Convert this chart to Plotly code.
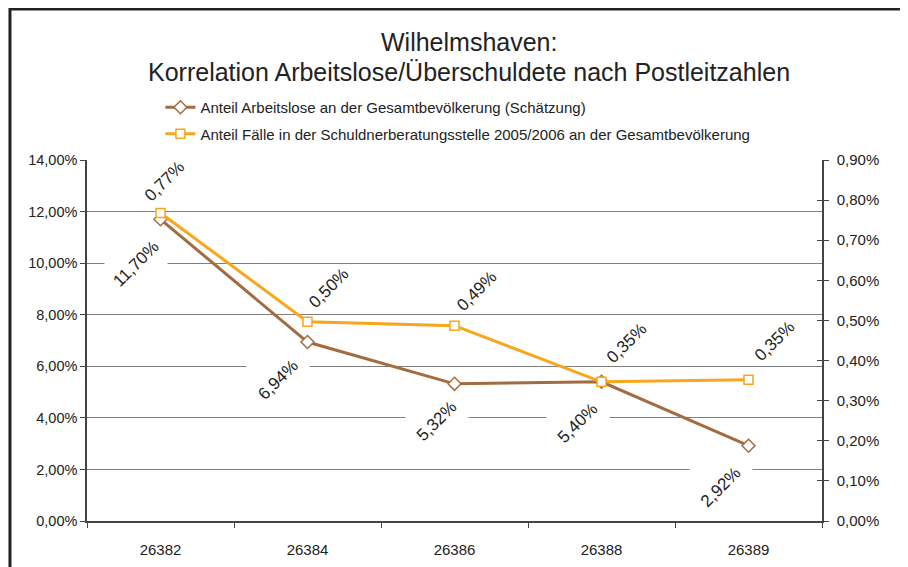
import plotly.graph_objects as go

categories = ["26382", "26384", "26386", "26388", "26389"]
arbeitslose = [0.1170, 0.0694, 0.0532, 0.0540, 0.0292]
faelle = [0.00768, 0.00497, 0.00487, 0.00347, 0.00352]
name_a = "Anteil Arbeitslose an der Gesamtbevölkerung (Schätzung)"
name_f = "Anteil Fälle in der Schuldnerberatungsstelle 2005/2006 an der Gesamtbevölkerung"
title_lines = ["Wilhelmshaven:", "Korrelation Arbeitslose/Überschuldete nach Postleitzahlen"]

BROWN = "#A46B3F"
ORANGE = "#F8A61C"
FONT = "Liberation Sans, Arial, sans-serif"
TXT = "#222"

fig = go.Figure()
fig.add_trace(go.Scatter(
    x=categories, y=arbeitslose, name=name_a, mode="lines+markers",
    line=dict(color=BROWN, width=3), legendgroup="a",
    marker=dict(symbol="diamond", size=10, color="white", line=dict(color=BROWN, width=1.5)),
    yaxis="y",
))
fig.add_trace(go.Scatter(
    x=categories, y=faelle, name=name_f, mode="lines+markers",
    line=dict(color=ORANGE, width=3), legendgroup="f",
    marker=dict(symbol="square", size=9, color="white", line=dict(color=ORANGE, width=1.5)),
    yaxis="y2",
))
# invisible trace so that the inner tick marks of the right axis are drawn
fig.add_trace(go.Scatter(x=categories, y=faelle, yaxis="y3", mode="lines", opacity=0,
                         showlegend=False, hoverinfo="skip"))

def fmt(v):
    return f"{v*100:.2f}".replace(".", ",") + "%"

# pixel offsets of label centers relative to points (dx right, dy down)
off_a = [(-25, 45), (-30, 38), (-18, 38), (-24, 42), (-28, 42)]
off_f = [(4, -31), (21, -33), (22, -34), (25, -38), (26, -38)]
for i, c in enumerate(categories):
    # white label background (axis-aligned, like the original)
    fig.add_annotation(x=i, y=arbeitslose[i], xref="x", yref="y", text=" ",
                       showarrow=False, width=60, height=46, bgcolor="white",
                       xshift=off_a[i][0], yshift=-off_a[i][1])
for i, c in enumerate(categories):
    fig.add_annotation(x=i, y=arbeitslose[i], xref="x", yref="y", text=fmt(arbeitslose[i]),
                       showarrow=False, textangle=-45, xshift=off_a[i][0], yshift=-off_a[i][1],
                       font=dict(size=17, color=TXT, family=FONT))
    fig.add_annotation(x=i, y=faelle[i], xref="x", yref="y2", text=fmt(faelle[i]),
                       showarrow=False, textangle=-45, xshift=off_f[i][0], yshift=-off_f[i][1],
                       font=dict(size=17, color=TXT, family=FONT))

for t, yy in zip(title_lines, [1.327, 1.244]):
    fig.add_annotation(x=0.52, y=yy, xref="paper", yref="paper", text=t, showarrow=False,
                       xanchor="center", yanchor="middle",
                       font=dict(size=25, color=TXT, family=FONT))

fig.add_shape(type="rect", xref="paper", yref="paper", x0=-0.1048, x1=1.3, y0=-0.3, y1=1.418,
              line=dict(color="#222", width=3), layer="below")

fig.update_layout(
    width=908, height=567,
    margin=dict(l=79, r=94, t=152, b=54, autoexpand=False),
    paper_bgcolor="white", plot_bgcolor="white",
    separators=",.",
    font=dict(family=FONT, size=15, color=TXT),
    showlegend=True,
    legend=dict(x=0.0999, y=1.191, xanchor="left", yanchor="top", orientation="v",
                bgcolor="rgba(0,0,0,0)", font=dict(size=15, family=FONT), itemwidth=30,
                tracegroupgap=4),
    xaxis=dict(type="category", range=[-0.5, 4.5], showline=True, linecolor="#444", linewidth=1.5,
               ticks="outside", tickson="boundaries", ticklen=5, tickcolor="#444",
               showgrid=False, tickfont=dict(size=15), automargin=False, tickangle=0,
               ticklabelstandoff=14),
    yaxis=dict(range=[0, 0.14], dtick=0.02, tickformat=".2%", showgrid=True,
               gridcolor="#7f7f7f", gridwidth=1, showline=True, linecolor="#444",
               linewidth=1.5, ticks="outside", ticklen=5, tickcolor="#444",
               zeroline=False, tickfont=dict(size=14.5), automargin=False),
    yaxis2=dict(range=[0, 0.009], dtick=0.001, tickformat=".2%", overlaying="y",
                side="right", showgrid=False, showline=True, linecolor="#444",
                linewidth=1.5, ticks="outside", ticklen=5, tickcolor="#444",
                zeroline=False, tickfont=dict(size=15), automargin=False,
                ticklabelstandoff=5),
    yaxis3=dict(range=[0, 0.009], dtick=0.001, overlaying="y", side="right",
                showgrid=False, showline=False, ticks="inside", ticklen=5, tickcolor="#444",
                showticklabels=False, zeroline=False, automargin=False),
)

fig.write_html("out.html")
